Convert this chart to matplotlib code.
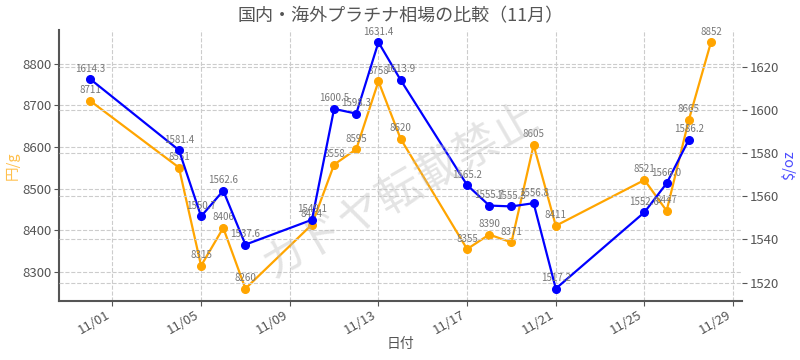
import matplotlib
matplotlib.use("Agg")
import matplotlib.pyplot as plt
import matplotlib.dates as mdates
import pandas as pd

plt.rcParams['font.family'] = ['Noto Sans CJK JP', 'DejaVu Sans']

jp_dates = ["2024-10-31", "2024-11-04", "2024-11-05", "2024-11-06", "2024-11-07",
            "2024-11-10", "2024-11-11", "2024-11-12", "2024-11-13", "2024-11-14",
            "2024-11-17", "2024-11-18", "2024-11-19", "2024-11-20", "2024-11-21",
            "2024-11-25", "2024-11-26", "2024-11-27", "2024-11-28"]
jp_price = [8711, 8551, 8315, 8406, 8260, 8414, 8558, 8595, 8758, 8620,
            8355, 8390, 8371, 8605, 8411, 8521, 8447, 8665, 8852]

us_dates = ["2024-10-31", "2024-11-04", "2024-11-05", "2024-11-06", "2024-11-07",
            "2024-11-10", "2024-11-11", "2024-11-12", "2024-11-13", "2024-11-14",
            "2024-11-17", "2024-11-18", "2024-11-19", "2024-11-20", "2024-11-21",
            "2024-11-25", "2024-11-26", "2024-11-27"]
us_price = [1614.3, 1581.4, 1550.7, 1562.6, 1537.6, 1549.1, 1600.5, 1598.3, 1631.4, 1613.9,
            1565.2, 1555.7, 1555.3, 1556.8, 1517.2, 1552.6, 1566.0, 1586.2]

title = "国内・海外プラチナ相場の比較（11月）"
xlabel = "日付"
ylabel_left = "円/g"
ylabel_right = "$/oz"
watermark = "カドヤ転載禁止"

jd = pd.to_datetime(jp_dates)
ud = pd.to_datetime(us_dates)

fig = plt.figure(figsize=(8, 3.6), dpi=100)
ax = fig.add_axes([0.074, 0.164, 0.8535, 0.753])
ax2 = ax.twinx()

grid_kw = dict(color='#cccccc', linestyle='--', linewidth=0.8)
ax.grid(True, **grid_kw)
ax2.grid(True, axis='y', **grid_kw)
ax.set_axisbelow(True)
ax2.set_axisbelow(True)

ax.plot(jd, jp_price, color='orange', marker='o', markersize=5.5, linewidth=1.6, zorder=3)
ax2.plot(ud, us_price, color='blue', marker='o', markersize=5.5, linewidth=1.6, zorder=3)

for d, v in zip(jd, jp_price):
    ax.annotate(f"{v}", (d, v), xytext=(0, 4), textcoords='offset points',
                ha='center', va='bottom', fontsize=7, color='#777777')
for d, v in zip(ud, us_price):
    ax2.annotate(f"{v:.1f}", (d, v), xytext=(0, 4), textcoords='offset points',
                 ha='center', va='bottom', fontsize=7, color='#777777')

ax.xaxis.set_major_locator(mdates.DayLocator(bymonthday=[1, 5, 9, 13, 17, 21, 25, 29]))
ax.xaxis.set_major_formatter(mdates.DateFormatter('%m/%d'))
for lbl in ax.get_xticklabels():
    lbl.set_rotation(30)
    lbl.set_ha('right')

for a in (ax, ax2):
    for s in a.spines.values():
        s.set_visible(False)
ax.spines['left'].set_visible(True)
ax.spines['bottom'].set_visible(True)
ax.spines['left'].set_color('#555555')
ax.spines['bottom'].set_color('#555555')
ax.spines['left'].set_linewidth(1.5)
ax.spines['bottom'].set_linewidth(1.5)

ax.tick_params(colors='#555555', labelsize=9.5, pad=2)
ax2.tick_params(colors='#555555', labelsize=9.5, pad=2)

ax.set_xlabel(xlabel, color='#555555', fontsize=10, labelpad=0)
ax.set_ylabel(ylabel_left, color='orange', fontsize=10.5, alpha=0.7, labelpad=2)
ax2.set_ylabel(ylabel_right, color='blue', fontsize=10.5, alpha=0.7, labelpad=2)
ax.set_title(title, color='#555555', fontsize=13)

fig.text(0.5, 0.47, watermark, fontsize=32, color='#bbbbbb', alpha=0.4,
         rotation=30, ha='center', va='center', zorder=10)

fig.savefig("out.png", dpi=100)
